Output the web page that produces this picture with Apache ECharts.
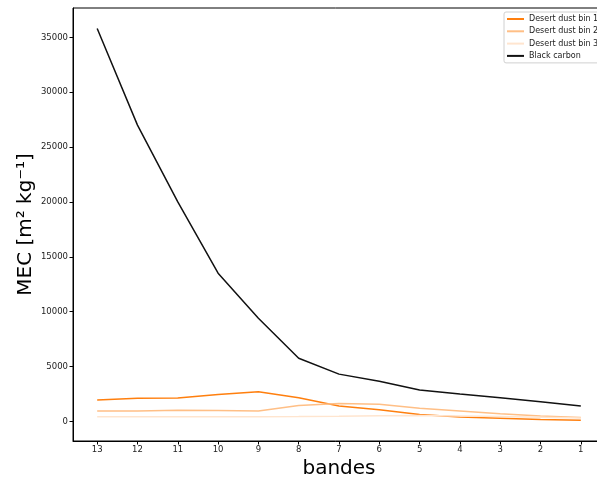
<!DOCTYPE html>
<html>
<head>
<meta charset="utf-8">
<script src="https://cdn.jsdelivr.net/npm/echarts@6/dist/echarts.min.js"></script>
<style>
  html, body { margin: 0; padding: 0; background: #fff; }
  #chart { width: 597px; height: 477px; }
</style>
</head>
<body>
<div id="chart"></div>
<script>
// bands, plotted from 13 down to 1
const bands = [13, 12, 11, 10, 9, 8, 7, 6, 5, 4, 3, 2, 1];
const dustBin1 = [1950, 2100, 2120, 2450, 2700, 2150, 1400, 1050, 620, 400, 290, 170, 100];
const dustBin2 = [950, 950, 1000, 980, 950, 1450, 1620, 1550, 1200, 950, 700, 480, 340];
const dustBin3 = [410, 410, 420, 420, 420, 430, 460, 500, 520, 490, 430, 370, 300];
const blackCarbon = [35800, 27000, 20000, 13500, 9400, 5750, 4300, 3650, 2850, 2480, 2150, 1780, 1400];
const yTicks = [0, 5000, 10000, 15000, 20000, 25000, 30000, 35000];

const chart = echarts.init(document.getElementById('chart'));

const pairs = vals => bands.map((b, i) => [b, vals[i]]);
const mkLine = (name, vals, color) => ({
  name,
  type: 'line',
  data: pairs(vals),
  symbol: 'none',
  lineStyle: { color, width: 1.5 },
  itemStyle: { color },
  emphasis: { disabled: true }
});

const tickFont = { fontFamily: 'DejaVu Sans', fontSize: 8.5, color: '#222' };

chart.setOption({
  animation: false,
  grid: {
    left: 73, top: 8, width: 532, height: 433,
    outerBoundsMode: 'none',
    show: true, borderColor: '#000', borderWidth: 1, backgroundColor: 'transparent'
  },
  legend: {
    orient: 'vertical',
    left: 504, top: 12,
    padding: [3, 6, 3, 3],
    itemGap: 4.3,
    itemWidth: 17, itemHeight: 2,
    icon: 'rect',
    backgroundColor: '#fff',
    borderColor: '#d0d0d0', borderWidth: 1, borderRadius: 2,
    textStyle: { fontFamily: 'DejaVu Sans', fontSize: 8, color: '#222', overflow: 'none' },
    data: ['Desert dust bin 1', 'Desert dust bin 2', 'Desert dust bin 3', 'Black carbon']
  },
  xAxis: {
    type: 'value',
    inverse: true,
    min: 0.4, max: 13.6,
    name: 'bandes',
    nameLocation: 'middle',
    nameGap: 14,
    nameTextStyle: { fontFamily: 'DejaVu Sans', fontSize: 20, color: '#000', verticalAlign: 'top' },
    axisLine: { show: true, onZero: false, lineStyle: { color: '#000', width: 1 } },
    axisTick: { show: true, length: 3.5, customValues: bands, lineStyle: { color: '#000' } },
    axisLabel: { customValues: bands, margin: 4, ...tickFont },
    splitLine: { show: false }
  },
  yAxis: {
    type: 'value',
    min: -1795, max: 37675,
    name: 'MEC [m\u00B2 kg\u207B\u00B9]',
    nameLocation: 'middle',
    nameGap: 37,
    nameMoveOverlap: false,
    nameTextStyle: { fontFamily: 'DejaVu Sans', fontSize: 20, color: '#000' },
    axisLine: { show: true, onZero: false, lineStyle: { color: '#000', width: 1 } },
    axisTick: { show: true, length: 3.5, customValues: yTicks, lineStyle: { color: '#000' } },
    axisLabel: { customValues: yTicks, margin: 5, formatter: v => String(v), ...tickFont },
    splitLine: { show: false }
  },
  series: [
    mkLine('Desert dust bin 1', dustBin1, '#ff7f0e'),
    mkLine('Desert dust bin 2', dustBin2, '#ffbf86'),
    mkLine('Desert dust bin 3', dustBin3, '#ffe5cf'),
    mkLine('Black carbon', blackCarbon, '#111111')
  ]
});
</script>
</body>
</html>
